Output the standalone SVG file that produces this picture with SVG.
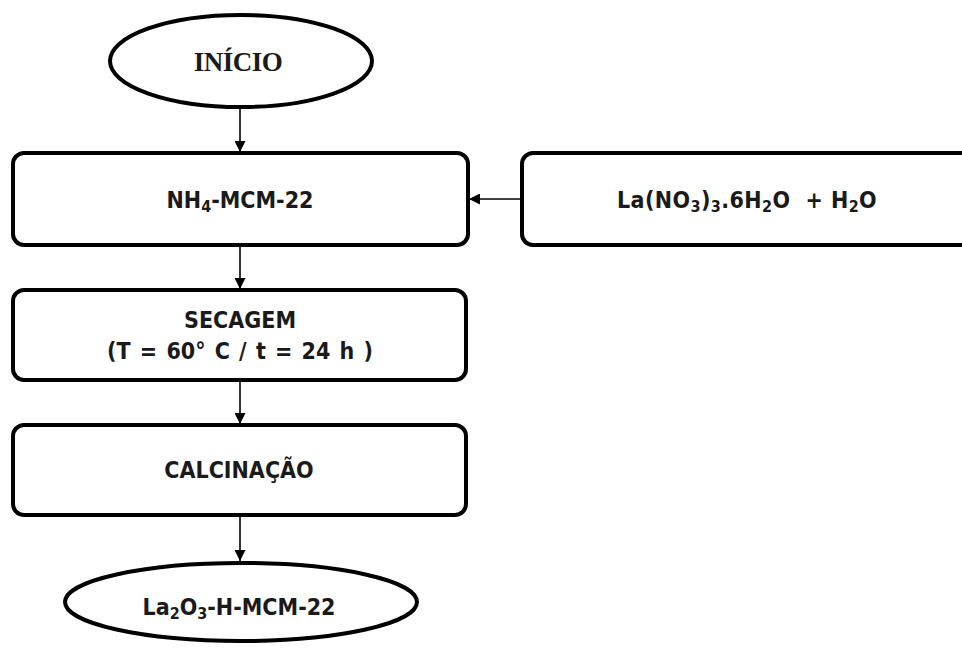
<svg xmlns="http://www.w3.org/2000/svg" width="962" height="650" viewBox="0 0 962 650">
  <style>
    .shape { fill: #ffffff; stroke: #000000; stroke-width: 4; }
    .lbl { font-family: "DejaVu Sans Condensed", "DejaVu Sans", Verdana, sans-serif; font-stretch: condensed; font-weight: bold; font-size: 23px; fill: #1a1a1a; text-anchor: middle; }
    .serif { font-family: "Liberation Serif", "Times New Roman", serif; font-weight: bold; font-size: 27px; fill: #1a1a1a; text-anchor: middle; }
    .sub { font-size: 16px; }
    .edge { fill: none; stroke: #000000; stroke-width: 1.6; }
  </style>
  <defs>
    <marker id="arrow" viewBox="0 0 10 10" refX="10" refY="5" markerWidth="11" markerHeight="11" markerUnits="userSpaceOnUse" orient="auto">
      <path d="M0,0 L10,5 L0,10 Z" fill="#000000"/>
    </marker>
  </defs>
  <rect width="962" height="650" fill="#ffffff"/>

  <g id="connectors">
    <line class="edge" x1="240" y1="108" x2="240" y2="152" marker-end="url(#arrow)"/>
    <line class="edge" x1="522" y1="199" x2="469" y2="199" marker-end="url(#arrow)"/>
    <line class="edge" x1="240" y1="246" x2="240" y2="289" marker-end="url(#arrow)"/>
    <line class="edge" x1="240" y1="381" x2="240" y2="424" marker-end="url(#arrow)"/>
    <line class="edge" x1="240" y1="516" x2="240" y2="561" marker-end="url(#arrow)"/>
  </g>

  <g id="inicio">
    <ellipse class="shape" cx="241" cy="61" rx="131" ry="46"/>
    <text class="serif" x="238" y="71" letter-spacing="-0.5">INÍCIO</text>
  </g>

  <g id="nh4-mcm22">
    <rect class="shape" x="13" y="153" width="455" height="92" rx="11"/>
    <text class="lbl" x="240" y="208">NH<tspan class="sub" dy="4">4</tspan><tspan dy="-4">-MCM-22</tspan></text>
  </g>

  <g id="lanitrato">
    <rect class="shape" x="522" y="153" width="460" height="92" rx="11"/>
    <text class="lbl" x="747" y="208" letter-spacing="0.4">La(NO<tspan class="sub" dy="4">3</tspan><tspan dy="-4">)</tspan><tspan class="sub" dy="4">3</tspan><tspan dy="-4">.6H</tspan><tspan class="sub" dy="4">2</tspan><tspan dy="-4">O&#160; + H</tspan><tspan class="sub" dy="4">2</tspan><tspan dy="-4">O</tspan></text>
  </g>

  <g id="secagem">
    <rect class="shape" x="13" y="290" width="453" height="90" rx="11"/>
    <text class="lbl" x="240" y="328">SECAGEM</text>
    <text class="lbl" x="240" y="359" word-spacing="2">(T = 60° C / t = 24 h )</text>
  </g>

  <g id="calcinacao">
    <rect class="shape" x="13" y="425" width="453" height="90" rx="11"/>
    <text class="lbl" x="239" y="478">CALCINAÇÃO</text>
  </g>

  <g id="produto">
    <ellipse class="shape" cx="241" cy="602" rx="176" ry="39"/>
    <text class="lbl" x="239" y="615">La<tspan class="sub" dy="4">2</tspan><tspan dy="-4">O</tspan><tspan class="sub" dy="4">3</tspan><tspan dy="-4">-H-MCM-22</tspan></text>
  </g>
</svg>
